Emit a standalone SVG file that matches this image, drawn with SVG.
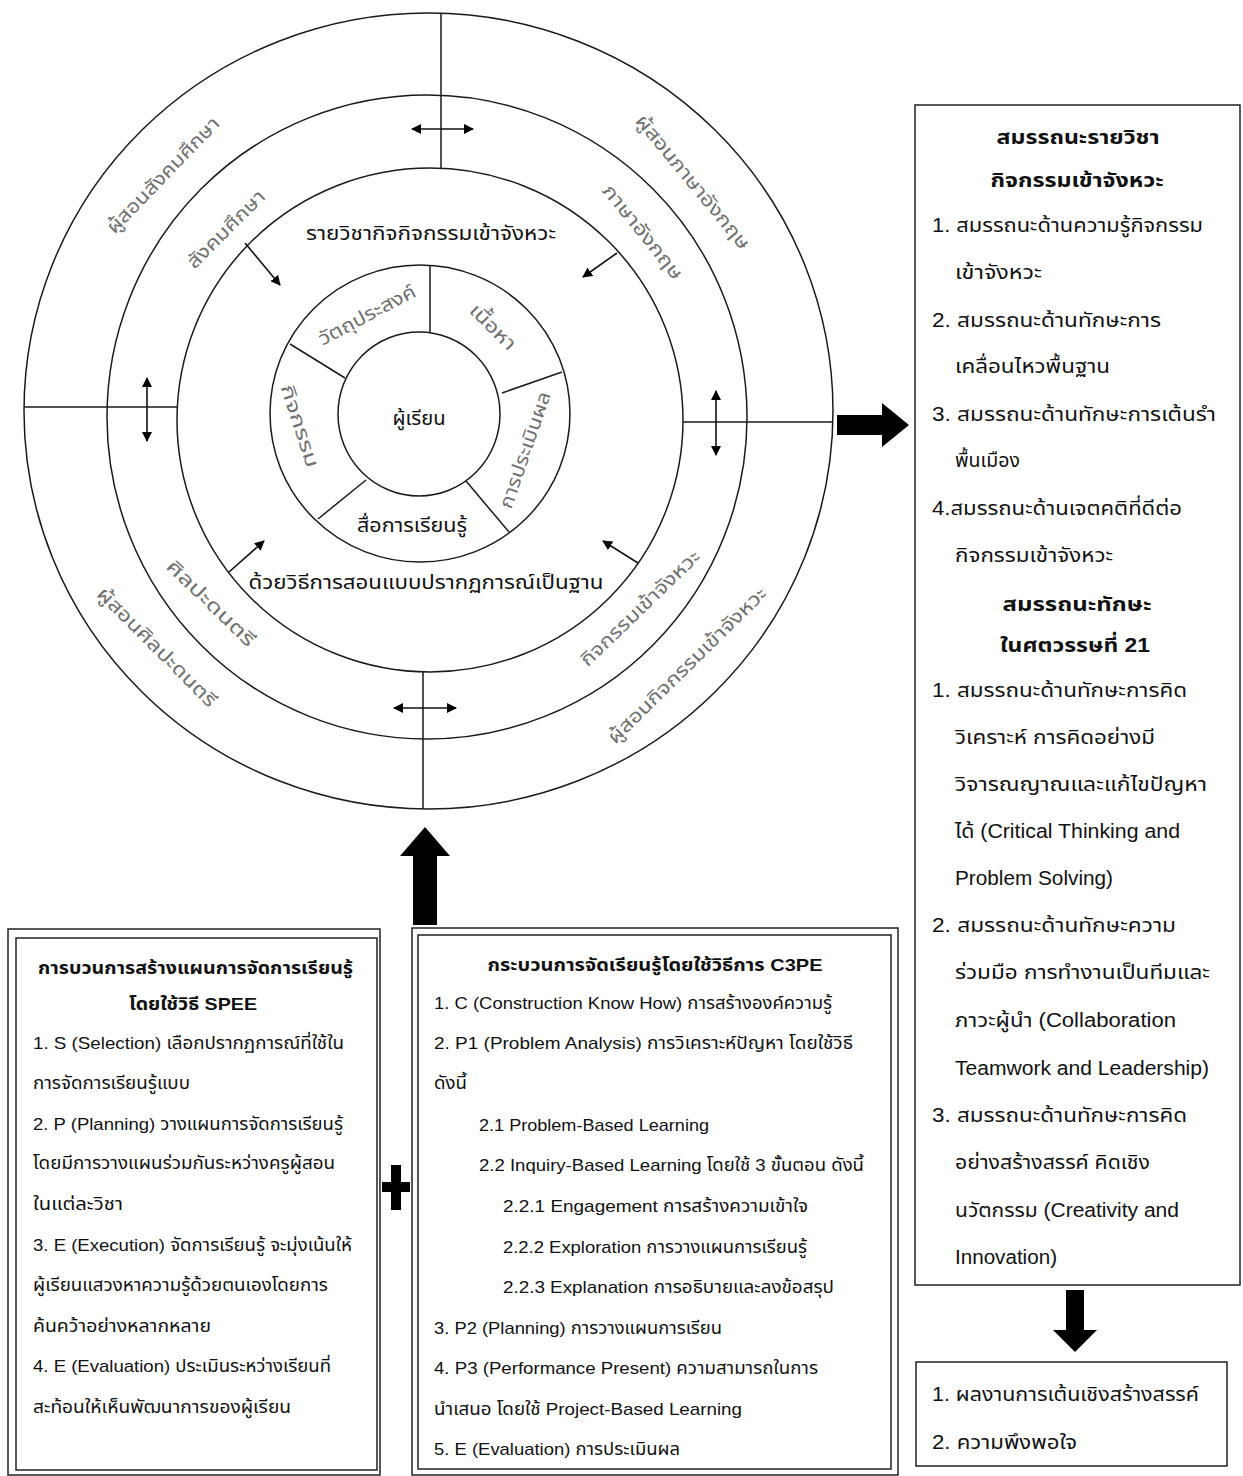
<svg xmlns="http://www.w3.org/2000/svg" width="1243" height="1476" viewBox="0 0 1243 1476">
<style>
text{font-family:"Liberation Sans","Noto Sans Thai","Noto Sans","DejaVu Sans",sans-serif;fill:#111}
.ring{fill:none;stroke:#1a1a1a;stroke-width:1.5}
.ln{stroke:#1a1a1a;stroke-width:1.5;fill:none}
.arr{stroke:#111;stroke-width:1.6;fill:none}
.box{fill:#fff;stroke:#222;stroke-width:1.5}
.big{fill:#000}
.g{fill:#707070;font-size:19px;text-anchor:middle;dominant-baseline:central}
.c{font-size:19px;text-anchor:middle;dominant-baseline:central}
.t16{font-size:17px}
.t18{font-size:19.5px}
.b{font-weight:bold}
.mid{text-anchor:middle}
</style>
<defs>
<marker id="ah" viewBox="0 0 10 10" refX="9" refY="5" markerWidth="10" markerHeight="10" markerUnits="userSpaceOnUse" orient="auto-start-reverse">
<path d="M0,0 L10,5 L0,10 z" fill="#000"/>
</marker>
</defs>

<g id="circles">
<ellipse class="ring" cx="428.5" cy="411" rx="404.5" ry="398"/>
<ellipse class="ring" cx="427" cy="417" rx="320" ry="322"/>
<ellipse class="ring" cx="430" cy="420" rx="253" ry="252"/>
<ellipse class="ring" cx="420" cy="413.5" rx="150" ry="148.5"/>
<ellipse class="ring" cx="419" cy="414" rx="81" ry="82"/>
</g>

<g id="dividers">
<line class="ln" x1="441" y1="13" x2="441" y2="168"/>
<line class="ln" x1="24" y1="407" x2="177" y2="407"/>
<line class="ln" x1="683" y1="422" x2="833" y2="422"/>
<line class="ln" x1="423" y1="672" x2="423" y2="809"/>
<line class="ln" x1="430" y1="265" x2="430" y2="332"/>
<line class="ln" x1="290" y1="344" x2="345" y2="378"/>
<line class="ln" x1="502" y1="393" x2="562" y2="372"/>
<line class="ln" x1="318" y1="519" x2="366" y2="480"/>
<line class="ln" x1="466" y1="481" x2="509" y2="532"/>
</g>

<g id="connectors">
<line class="arr" x1="412" y1="129" x2="473" y2="129" marker-start="url(#ah)" marker-end="url(#ah)"/>
<line class="arr" x1="147" y1="378" x2="147" y2="441" marker-start="url(#ah)" marker-end="url(#ah)"/>
<line class="arr" x1="716" y1="391" x2="716" y2="455" marker-start="url(#ah)" marker-end="url(#ah)"/>
<line class="arr" x1="394" y1="708" x2="456" y2="708" marker-start="url(#ah)" marker-end="url(#ah)"/>
<line class="arr" x1="245" y1="243" x2="280" y2="285" marker-end="url(#ah)"/>
<line class="arr" x1="617" y1="253" x2="583" y2="277" marker-end="url(#ah)"/>
<line class="arr" x1="229" y1="572" x2="264" y2="541" marker-end="url(#ah)"/>
<line class="arr" x1="638" y1="563" x2="603" y2="541" marker-end="url(#ah)"/>
<polygon id="arrow-up" class="big" points="425,827 450,856 437,856 437,925 413,925 413,856 400,856"/>
<polygon id="arrow-right" class="big" points="837,415 882,415 882,403 909,425 882,447 882,435 837,435"/>
<polygon id="arrow-down" class="big" points="1066,1290 1084,1290 1084,1330 1097,1330 1075,1352 1053,1330 1066,1330"/>
<polygon id="plus" class="big" points="391,1165 401,1165 401,1182 410,1182 410,1192 401,1192 401,1210 391,1210 391,1192 382,1192 382,1182 391,1182"/>
</g>

<g id="ring-labels">
<text class="g" transform="translate(163,175) rotate(-46)" textLength="153" lengthAdjust="spacingAndGlyphs">ผู้สอนสังคมศึกษา</text>
<text class="g" transform="translate(226,229) rotate(-45)" textLength="102" lengthAdjust="spacingAndGlyphs">สังคมศึกษา</text>
<text class="g" transform="translate(693,182) rotate(50.5)" textLength="168" lengthAdjust="spacingAndGlyphs">ผู้สอนภาษาอังกฤษ</text>
<text class="g" transform="translate(643,232) rotate(51)" textLength="116" lengthAdjust="spacingAndGlyphs">ภาษาอังกฤษ</text>
<text class="g" transform="translate(211,603) rotate(44)" textLength="115" lengthAdjust="spacingAndGlyphs">ศิลปะดนตรี</text>
<text class="g" transform="translate(157,647) rotate(45)" textLength="160" lengthAdjust="spacingAndGlyphs">ผู้สอนศิลปะดนตรี</text>
<text class="g" transform="translate(640,608) rotate(-44)" textLength="158" lengthAdjust="spacingAndGlyphs">กิจกรรมเข้าจังหวะ</text>
<text class="g" transform="translate(687,665) rotate(-44.5)" textLength="214" lengthAdjust="spacingAndGlyphs">ผู้สอนกิจกรรมเข้าจังหวะ</text>
<text class="g" transform="translate(367,315) rotate(-28)" textLength="107" lengthAdjust="spacingAndGlyphs">วัตถุประสงค์</text>
<text class="g" transform="translate(493,327) rotate(45)" textLength="57" lengthAdjust="spacingAndGlyphs">เนื้อหา</text>
<text class="g" transform="translate(525,450) rotate(-71)" textLength="122" lengthAdjust="spacingAndGlyphs">การประเมินผล</text>
<text class="g" transform="translate(300,426) rotate(72)" textLength="86" lengthAdjust="spacingAndGlyphs">กิจกรรม</text>
<text class="c" x="431" y="233" textLength="250" lengthAdjust="spacingAndGlyphs">รายวิชากิจกิจกรรมเข้าจังหวะ</text>
<text class="c" x="419" y="418" textLength="53" lengthAdjust="spacingAndGlyphs">ผู้เรียน</text>
<text class="c" x="412" y="525" textLength="110" lengthAdjust="spacingAndGlyphs">สื่อการเรียนรู้</text>
<text class="c" x="426" y="582" textLength="355" lengthAdjust="spacingAndGlyphs">ด้วยวิธีการสอนแบบปรากฏการณ์เป็นฐาน</text>
</g>

<g id="box-spee">
<rect class="box" x="8" y="929" width="372" height="546"/>
<rect class="box" x="16" y="938" width="361" height="532"/>
<text class="t16 b mid" x="195.5" y="974" textLength="315" lengthAdjust="spacingAndGlyphs">การบวนการสร้างแผนการจัดการเรียนรู้</text>
<text class="t16 b mid" x="193" y="1010" textLength="128" lengthAdjust="spacingAndGlyphs">โดยใช้วิธี SPEE</text>
<text class="t16" x="33" y="1049" textLength="311" lengthAdjust="spacingAndGlyphs">1. S (Selection) เลือกปรากฏการณ์ที่ใช้ใน</text>
<text class="t16" x="33" y="1089" textLength="157" lengthAdjust="spacingAndGlyphs">การจัดการเรียนรู้แบบ</text>
<text class="t16" x="33" y="1130" textLength="310" lengthAdjust="spacingAndGlyphs">2. P (Planning) วางแผนการจัดการเรียนรู้</text>
<text class="t16" x="33" y="1169" textLength="302" lengthAdjust="spacingAndGlyphs">โดยมีการวางแผนร่วมกันระหว่างครูผู้สอน</text>
<text class="t16" x="33" y="1210" textLength="90" lengthAdjust="spacingAndGlyphs">ในแต่ละวิชา</text>
<text class="t16" x="33" y="1251" textLength="319" lengthAdjust="spacingAndGlyphs">3. E (Execution) จัดการเรียนรู้ จะมุ่งเน้นให้</text>
<text class="t16" x="33" y="1291" textLength="295" lengthAdjust="spacingAndGlyphs">ผู้เรียนแสวงหาความรู้ด้วยตนเองโดยการ</text>
<text class="t16" x="33" y="1332" textLength="178" lengthAdjust="spacingAndGlyphs">ค้นคว้าอย่างหลากหลาย</text>
<text class="t16" x="33" y="1372" textLength="298" lengthAdjust="spacingAndGlyphs">4. E (Evaluation) ประเมินระหว่างเรียนที่</text>
<text class="t16" x="33" y="1413" textLength="258" lengthAdjust="spacingAndGlyphs">สะท้อนให้เห็นพัฒนาการของผู้เรียน</text>
</g>

<g id="box-c3pe">
<rect class="box" x="412" y="928" width="486" height="547"/>
<rect class="box" x="418" y="935" width="473" height="534"/>
<text class="t16 b mid" x="655" y="971" textLength="335" lengthAdjust="spacingAndGlyphs">กระบวนการจัดเรียนรู้โดยใช้วิธีการ C3PE</text>
<text class="t16" x="434" y="1009" textLength="398" lengthAdjust="spacingAndGlyphs">1. C (Construction Know How) การสร้างองค์ความรู้</text>
<text class="t16" x="434" y="1049" textLength="419" lengthAdjust="spacingAndGlyphs">2. P1 (Problem Analysis) การวิเคราะห์ปัญหา โดยใช้วิธี</text>
<text class="t16" x="434" y="1089" textLength="33" lengthAdjust="spacingAndGlyphs">ดังนี้</text>
<text class="t16" x="479" y="1131" textLength="230" lengthAdjust="spacingAndGlyphs">2.1 Problem-Based Learning</text>
<text class="t16" x="479" y="1171" textLength="385" lengthAdjust="spacingAndGlyphs">2.2 Inquiry-Based Learning โดยใช้ 3 ขั้นตอน ดังนี้</text>
<text class="t16" x="503" y="1212" textLength="305" lengthAdjust="spacingAndGlyphs">2.2.1 Engagement การสร้างความเข้าใจ</text>
<text class="t16" x="503" y="1253" textLength="304" lengthAdjust="spacingAndGlyphs">2.2.2 Exploration การวางแผนการเรียนรู้</text>
<text class="t16" x="503" y="1293" textLength="331" lengthAdjust="spacingAndGlyphs">2.2.3 Explanation การอธิบายและลงข้อสรุป</text>
<text class="t16" x="434" y="1334" textLength="288" lengthAdjust="spacingAndGlyphs">3. P2 (Planning) การวางแผนการเรียน</text>
<text class="t16" x="434" y="1374" textLength="384" lengthAdjust="spacingAndGlyphs">4. P3 (Performance Present) ความสามารถในการ</text>
<text class="t16" x="434" y="1415" textLength="308" lengthAdjust="spacingAndGlyphs">นำเสนอ โดยใช้ Project-Based Learning</text>
<text class="t16" x="434" y="1455" textLength="246" lengthAdjust="spacingAndGlyphs">5. E (Evaluation) การประเมินผล</text>
</g>

<g id="box-competency">
<rect class="box" x="915" y="105" width="325" height="1180"/>
<text class="t18 b mid" x="1078" y="144" textLength="163" lengthAdjust="spacingAndGlyphs">สมรรถนะรายวิชา</text>
<text class="t18 b mid" x="1077" y="187" textLength="173" lengthAdjust="spacingAndGlyphs">กิจกรรมเข้าจังหวะ</text>
<text class="t18" x="932" y="232" textLength="271" lengthAdjust="spacingAndGlyphs">1. สมรรถนะด้านความรู้กิจกรรม</text>
<text class="t18" x="955" y="279" textLength="87" lengthAdjust="spacingAndGlyphs">เข้าจังหวะ</text>
<text class="t18" x="932" y="327" textLength="229" lengthAdjust="spacingAndGlyphs">2. สมรรถนะด้านทักษะการ</text>
<text class="t18" x="955" y="373" textLength="155" lengthAdjust="spacingAndGlyphs">เคลื่อนไหวพื้นฐาน</text>
<text class="t18" x="932" y="421" textLength="284" lengthAdjust="spacingAndGlyphs">3. สมรรถนะด้านทักษะการเต้นรำ</text>
<text class="t18" x="955" y="467" textLength="65" lengthAdjust="spacingAndGlyphs">พื้นเมือง</text>
<text class="t18" x="932" y="515" textLength="250" lengthAdjust="spacingAndGlyphs">4.สมรรถนะด้านเจตคติที่ดีต่อ</text>
<text class="t18" x="955" y="562" textLength="158" lengthAdjust="spacingAndGlyphs">กิจกรรมเข้าจังหวะ</text>
<text class="t18 b mid" x="1077" y="611" textLength="149" lengthAdjust="spacingAndGlyphs">สมรรถนะทักษะ</text>
<text class="t18 b mid" x="1075" y="652" textLength="150" lengthAdjust="spacingAndGlyphs">ในศตวรรษที่ 21</text>
<text class="t18" x="932" y="697" textLength="255" lengthAdjust="spacingAndGlyphs">1. สมรรถนะด้านทักษะการคิด</text>
<text class="t18" x="955" y="744" textLength="200" lengthAdjust="spacingAndGlyphs">วิเคราะห์ การคิดอย่างมี</text>
<text class="t18" x="955" y="791" textLength="252" lengthAdjust="spacingAndGlyphs">วิจารณญาณและแก้ไขปัญหา</text>
<text class="t18" x="955" y="838" textLength="225" lengthAdjust="spacingAndGlyphs">ได้ (Critical Thinking and</text>
<text class="t18" x="955" y="885" textLength="158" lengthAdjust="spacingAndGlyphs">Problem Solving)</text>
<text class="t18" x="932" y="932" textLength="244" lengthAdjust="spacingAndGlyphs">2. สมรรถนะด้านทักษะความ</text>
<text class="t18" x="955" y="979" textLength="255" lengthAdjust="spacingAndGlyphs">ร่วมมือ การทำงานเป็นทีมและ</text>
<text class="t18" x="955" y="1027" textLength="221" lengthAdjust="spacingAndGlyphs">ภาวะผู้นำ (Collaboration</text>
<text class="t18" x="955" y="1075" textLength="254" lengthAdjust="spacingAndGlyphs">Teamwork and Leadership)</text>
<text class="t18" x="932" y="1122" textLength="255" lengthAdjust="spacingAndGlyphs">3. สมรรถนะด้านทักษะการคิด</text>
<text class="t18" x="955" y="1169" textLength="195" lengthAdjust="spacingAndGlyphs">อย่างสร้างสรรค์ คิดเชิง</text>
<text class="t18" x="955" y="1217" textLength="224" lengthAdjust="spacingAndGlyphs">นวัตกรรม (Creativity and</text>
<text class="t18" x="955" y="1264" textLength="102" lengthAdjust="spacingAndGlyphs">Innovation)</text>
</g>

<g id="box-outcome">
<rect class="box" x="916" y="1362" width="311" height="104"/>
<text class="t18" x="932" y="1401" textLength="267" lengthAdjust="spacingAndGlyphs">1. ผลงานการเต้นเชิงสร้างสรรค์</text>
<text class="t18" x="932" y="1449" textLength="145" lengthAdjust="spacingAndGlyphs">2. ความพึงพอใจ</text>
</g>
</svg>
